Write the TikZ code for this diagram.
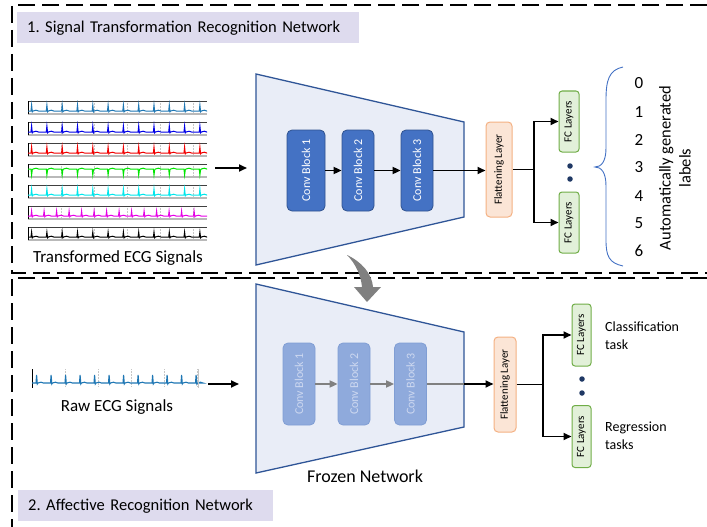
\documentclass[tikz,border=0pt]{standalone}
\usepackage{fontspec}
\setmainfont{Carlito}
\usepackage{graphicx}
\usetikzlibrary{arrows.meta}
\frenchspacing
\definecolor{titlefill}{RGB}{222,219,238}
\definecolor{trapfill}{RGB}{233,237,247}
\definecolor{trapdraw}{RGB}{47,85,151}
\definecolor{convfill}{RGB}{68,114,196}
\definecolor{convdraw}{RGB}{47,82,143}
\definecolor{fconvfill}{RGB}{143,170,220}
\definecolor{fconvdraw}{RGB}{128,158,212}
\definecolor{fconvtext}{RGB}{205,216,240}
\definecolor{flatfill}{RGB}{251,229,214}
\definecolor{flatdraw}{RGB}{244,177,131}
\definecolor{fcfill}{RGB}{226,240,217}
\definecolor{fcdraw}{RGB}{112,173,71}
\definecolor{dotcol}{RGB}{31,56,100}
\definecolor{bracecol}{RGB}{68,114,196}
\definecolor{ecgsteel}{RGB}{31,119,180}
\definecolor{ecgblue}{RGB}{0,0,230}
\definecolor{ecgred}{RGB}{240,0,0}
\definecolor{ecggreen}{RGB}{0,230,0}
\definecolor{ecgcyan}{RGB}{0,230,235}
\definecolor{ecgmag}{RGB}{230,0,230}
\definecolor{arrgray}{RGB}{128,128,128}
\newcommand\fsz[1]{\fontsize{#1}{#1}\selectfont}
% #1 x0, #2 ytop, #3 colour, #4 baseline offset, #5 spike offset, #6 spacing, #7 last index, #8 width
\newcommand\ecgrow[8]{%
  \draw[gray!45, densely dotted, line width=0.5] foreach \k in {1,...,5} {(#1+\k*33,#2) -- (#1+\k*33,#2+13)};
  \draw[gray!55, line width=1.3] (#1,#2+13) -- (#1+#8,#2+13);
  \draw[black!75, line width=0.6] (#1,#2) -- (#1+#8,#2);
  \draw[black, line width=0.7] (#1,#2) -- (#1,#2+13);
  \draw[#3, line width=1] (#1,#2+#4) foreach \k in {0,...,#7} {
     -- (#1+3+\k*#6,#2+#4) -- (#1+3.6+\k*#6,#2+#5) -- (#1+4.3+\k*#6,#2+#4+0.8)
     -- (#1+5+\k*#6,#2+#4) -- (#1+8+\k*#6,#2+#4-0.8) -- (#1+10.5+\k*#6,#2+#4)} -- (#1+#8,#2+#4);
}
\begin{document}
\begin{tikzpicture}[x=1pt,y=-1pt,
  dashbox/.style={line width=2.2pt, dash pattern=on 17pt off 7pt},
  titlebox/.style={fill=titlefill, draw=none, anchor=north west, minimum height=31pt, inner xsep=10pt, font=\fsz{16.5}},
  trap/.style={fill=trapfill, draw=trapdraw, line width=1.3pt, line join=miter},
  convbox/.style={fill=convfill, draw=convdraw, line width=0.8pt, rounded corners=5pt, text=white, minimum height=81pt, inner sep=0pt, font=\fsz{12}},
  fconvbox/.style={fill=fconvfill, draw=fconvdraw, line width=0.8pt, rounded corners=5pt, text=fconvtext, minimum width=32pt, minimum height=82pt, inner sep=0pt, font=\fsz{12}},
  flatbox/.style={fill=flatfill, draw=flatdraw, line width=1pt, rounded corners=4pt, minimum height=95pt, inner sep=0pt, font=\fsz{11}},
  fcbox/.style={fill=fcfill, draw=fcdraw, line width=1pt, rounded corners=3pt, minimum width=20pt, minimum height=61pt, inner sep=0pt, font=\fsz{11}},
  arr/.style={line width=1.8pt, -{Triangle[length=8pt,width=7pt]}},
  grayarr/.style={line width=1.8pt, draw=arrgray, -{Triangle[length=8pt,width=7pt]}},
  dot/.style={circle, fill=dotcol, inner sep=0pt, minimum size=5.5pt},
  lbl/.style={font=\fsz{17}, inner sep=0pt}
]
\useasboundingbox (0,0) rectangle (707,527);

% dashed section borders
\draw[dashbox] (707,5) -- (12,5) -- (12,273) -- (707,273);
\draw[dashbox] (707,278) -- (12,278) -- (12,527);

% titles
\node[titlebox, text width=322pt] (t1) at (17,12) {1. Signal Transformation Recognition Network};
\node[titlebox, text width=235pt] (t2) at (18,490) {2. Affective Recognition Network};

% ===== section 1 =====
\ecgrow{28}{101}{ecgsteel}{10}{4}{15.3}{11}{179}
\ecgrow{28}{122}{ecgblue}{10}{4}{15.3}{11}{179}
\ecgrow{28}{143}{ecgred}{10}{4}{15.3}{11}{179}
\ecgrow{28}{164}{ecggreen}{5}{11}{15.3}{11}{179}
\ecgrow{28}{185}{ecgcyan}{10}{4}{15.3}{11}{179}
\ecgrow{28}{206}{ecgmag}{10}{5}{12.5}{13}{179}
\ecgrow{28}{227}{black}{10}{5}{15.3}{11}{179}
\node[lbl] (ecgt) at (118,258) {Transformed ECG Signals};
\coordinate (in1s) at (215,168);
\coordinate (in1e) at (247,168);
\draw[arr] (in1s) -- (in1e);

\draw[trap] (256,74) coordinate (tr1a) -- (464,122) -- (464,217) -- (256,265) -- cycle;

\node[convbox, minimum width=38pt] (c1) at (306,170.5) {\rotatebox{90}{Conv Block 1}};
\node[convbox, minimum width=32pt] (c2) at (358,170.5) {\rotatebox{90}{Conv Block 2}};
\node[convbox, minimum width=32pt] (c3) at (417,170.5) {\rotatebox{90}{Conv Block 3}};
\draw[arr] (c1.east) -- (c2.west);
\draw[arr] (c2.east) -- (c3.west);

\node[flatbox, minimum width=26pt] (f1) at (499,169.5) {\rotatebox{90}{Flattening Layer}};
\draw[arr] (c3.east) -- (c3.east -| f1.west);

\node[fcbox] (fc1) at (569,121.5) {\rotatebox{90}{FC Layers}};
\node[fcbox] (fc2) at (569,222.5) {\rotatebox{90}{FC Layers}};
\coordinate (j1) at (534,169.5);
\draw[line width=1.8pt] (f1.east) -- (j1);
\draw[arr] (j1) |- (fc1.west);
\draw[arr] (j1) |- (fc2.west);
\node[dot] (d1) at (570,166) {};
\node[dot] (d2) at (570,179) {};

\draw[bracecol, line width=0.9pt] (623,67) .. controls (609,70) and (606,80) .. (606,100) -- (606,148)
  .. controls (606,162) and (601,167) .. (595,167)
  .. controls (601,167) and (606,172) .. (606,186) -- (606,240)
  .. controls (606,256) and (609,263) .. (623,266);

\foreach \n/\yy in {0/83,1/112,2/140,3/167,4/196,5/223,6/251}
  \node[lbl] (n\n) at (639,\yy) {\n};
\node[font=\fontsize{16.5}{20}\selectfont, align=center, rotate=90, inner sep=0pt] (autol) at (675,168) {Automatically generated\\labels};

% transfer arrow (gray curved)
\fill[arrgray] (347,255) .. controls (362,262) and (372,274) .. (373,287)
  -- (381,287) -- (367,302) -- (354,287) -- (362,287)
  .. controls (361,276) and (356,264) .. (347,255) -- cycle;

% ===== section 2 =====
\draw[gray!45, densely dotted, line width=0.5] foreach \k in {1,...,5} {(32+\k*33,369) -- (32+\k*33,387)};
\draw[black, line width=0.7] (32,369) -- (32,388);
\draw[ecgsteel, line width=1.1] (32,383) foreach \k in {0,...,11} {
   -- (36+\k*14.5,383) -- (36.6+\k*14.5,375) -- (37.3+\k*14.5,384)
   -- (38+\k*14.5,383) -- (41+\k*14.5,382.2) -- (43.5+\k*14.5,383)} -- (198,383);
\draw[gray!45, line width=0.6] (198,369) -- (198,388);
\node[lbl] (rawt) at (117,407) {Raw ECG Signals};
\coordinate (in2s) at (208,384);
\coordinate (in2e) at (239,384);
\draw[arr] (in2s) -- (in2e);

\draw[trap] (256,284) -- (464,332) coordinate (tr2b) -- (464,427) -- (256,473) -- cycle;
\node[font=\fsz{18}, inner sep=0pt] (frozen) at (365,476) {Frozen Network};

\node[fconvbox] (b1) at (299,384) {\rotatebox{90}{Conv Block 1}};
\node[fconvbox] (b2) at (354,384) {\rotatebox{90}{Conv Block 2}};
\node[fconvbox] (b3) at (410.5,384) {\rotatebox{90}{Conv Block 3}};
\draw[grayarr] (b1.east) -- (b2.west);
\draw[grayarr] (b2.east) -- (b3.west);

\node[flatbox, minimum width=22pt] (f2) at (505,384.5) {\rotatebox{90}{Flattening Layer}};
\coordinate (edge2) at (b3.east -| tr2b);
\draw[line width=1.8pt, arrgray] (b3.east) -- (edge2);
\draw[arr] (edge2) -- (b3.east -| f2.west);

\node[fcbox, minimum width=19pt, minimum height=62pt] (g1) at (581.5,335) {\rotatebox{90}{FC Layers}};
\node[fcbox, minimum width=19pt, minimum height=62pt] (g2) at (581.5,436.5) {\rotatebox{90}{FC Layers}};
\coordinate (j2) at (543,384.5);
\draw[line width=1.8pt] (f2.east) -- (j2);
\draw[arr] (j2) |- (g1.west);
\draw[arr] (j2) |- (g2.west);
\node[dot] (e1) at (582,379) {};
\node[dot] (e2) at (582,393) {};

\node[font=\fontsize{14}{18}\selectfont, align=left, anchor=west, inner sep=0pt] (cls) at (605,336) {Classification\\task};
\node[font=\fontsize{14}{18}\selectfont, align=left, anchor=west, inner sep=0pt] (reg) at (605,436) {Regression\\tasks};
\end{tikzpicture}
\end{document}
